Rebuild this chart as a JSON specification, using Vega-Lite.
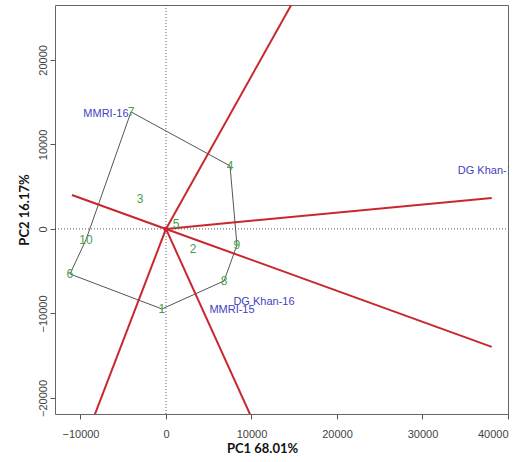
{
  "$schema": "https://vega.github.io/schema/vega-lite/v6.json",
  "autosize": {"type": "none"},
  "width": 453,
  "height": 409,
  "padding": {"left": 55, "top": 5, "right": 21, "bottom": 48},
  "background": "white",
  "config": {
    "view": {"stroke": "#666", "strokeWidth": 1},
    "axis": {"grid": false, "domain": false, "labelFont": "Liberation Sans", "labelFontSize": 11, "labelColor": "#444", "tickColor": "#555", "tickSize": 5, "titleFont": "Lato", "titleFontSize": 13, "titleFontWeight": "bold", "titleColor": "#111"}
  },
  "datasets": {
    "geno": [
      {"x": -4090, "y": 13850, "g": "7"},
      {"x": 7490, "y": 7460, "g": "4"},
      {"x": -3040, "y": 3550, "g": "3"},
      {"x": 1170, "y": 590, "g": "5"},
      {"x": -9360, "y": -1300, "g": "10"},
      {"x": 3160, "y": -2370, "g": "2"},
      {"x": 8300, "y": -1890, "g": "9"},
      {"x": -11230, "y": -5330, "g": "6"},
      {"x": 6800, "y": -6150, "g": "8"},
      {"x": -470, "y": -9470, "g": "1"}
    ],
    "hull": [
      {"x": -4090, "y": 13850, "o": 1},
      {"x": 7490, "y": 7460, "o": 2},
      {"x": 8300, "y": -1890, "o": 3},
      {"x": 6800, "y": -6150, "o": 4},
      {"x": -470, "y": -9470, "o": 5},
      {"x": -11230, "y": -5330, "o": 6},
      {"x": -9360, "y": -1300, "o": 7},
      {"x": -4090, "y": 13850, "o": 8}
    ],
    "env": [
      {"x": -7020, "y": 13600, "e": "MMRI-16"},
      {"x": 37700, "y": 6860, "e": "DG Khan-15"},
      {"x": 11460, "y": -8640, "e": "DG Khan-16"},
      {"x": 7720, "y": -9590, "e": "MMRI-15"}
    ],
    "rays": [
      {"x": 0, "y": 0, "x2": 16000, "y2": 28950},
      {"x": 0, "y": 0, "x2": 38100, "y2": 3670},
      {"x": 0, "y": 0, "x2": 38100, "y2": -13950},
      {"x": 0, "y": 0, "x2": -11000, "y2": 4020},
      {"x": 0, "y": 0, "x2": -8420, "y2": -22220},
      {"x": 0, "y": 0, "x2": 9960, "y2": -22220}
    ],
    "refs": [
      {"x": 0, "y": -21900, "x2": 0, "y2": 26500},
      {"x": -12980, "y": 0, "x2": 40000, "y2": 0}
    ],
    "origin": [{"x": 0, "y": 0}]
  },
  "encoding": {
    "x": {"field": "x", "type": "quantitative",
      "scale": {"domain": [-12980, 40000], "nice": false, "zero": false},
      "axis": {"values": [-10000, 0, 10000, 20000, 30000, 40000], "title": "PC1 68.01%", "labelPadding": 9, "titlePadding": 3, "titleX": 207, "format": "d"}},
    "y": {"field": "y", "type": "quantitative",
      "scale": {"domain": [-21900, 26500], "nice": false, "zero": false},
      "axis": {"values": [-20000, -10000, 0, 10000, 20000], "title": "PC2 16.17%", "labelAngle": -90, "labelAlign": "center", "labelBaseline": "bottom", "labelPadding": 2, "titlePadding": 6, "format": "d"}}
  },
  "layer": [
    {
      "data": {"name": "refs"},
      "mark": {"type": "rule", "color": "#333", "strokeWidth": 0.8, "strokeDash": [1, 2]},
      "encoding": {"x2": {"field": "x2"}, "y2": {"field": "y2"}}
    },
    {
      "data": {"name": "hull"},
      "mark": {"type": "line", "color": "#555", "strokeWidth": 1},
      "encoding": {"order": {"field": "o", "type": "quantitative"}}
    },
    {
      "data": {"name": "rays"},
      "mark": {"type": "rule", "color": "#c8282d", "strokeWidth": 2, "clip": true},
      "encoding": {"x2": {"field": "x2"}, "y2": {"field": "y2"}}
    },
    {
      "data": {"name": "origin"},
      "mark": {"type": "point", "filled": true, "color": "#c8282d", "size": 25, "opacity": 1}
    },
    {
      "data": {"name": "geno"},
      "mark": {"type": "text", "color": "#4a9e4a", "font": "Liberation Sans", "fontSize": 12, "align": "center", "baseline": "middle"},
      "encoding": {"text": {"field": "g"}}
    },
    {
      "data": {"name": "env"},
      "mark": {"type": "text", "color": "#3f3fbf", "font": "Liberation Sans", "fontSize": 11, "align": "center", "baseline": "middle", "clip": true},
      "encoding": {"text": {"field": "e"}}
    }
  ]
}
